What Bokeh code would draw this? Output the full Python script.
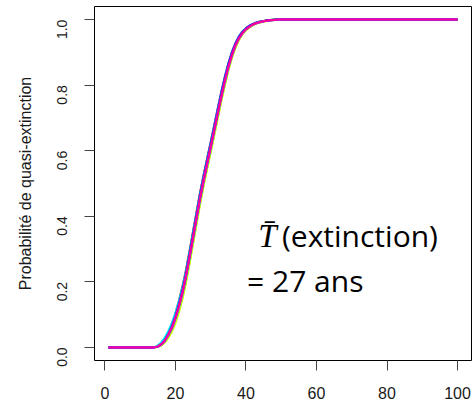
import math
from bokeh.plotting import figure
from bokeh.models import FixedTicker, Range1d, Label
from bokeh.embed import file_html
from bokeh.resources import INLINE

# ---- data ----
years_rise = list(range(14, 51))          # years where the curves rise
x_start, x_end = 1, 100                    # flat parts at 0 (start) and 1 (end)

series_colors = ["#FF0000", "#FF9900", "#CCFF00", "#33FF00", "#00FF66",
                 "#00FFFF", "#0066FF", "#3300FF", "#CC00FF", "#FF0099"]

s1 = [0.000,0.005,0.014,0.028,0.048,0.073,0.105,0.143,0.187,0.238,0.295,0.355,0.415,0.474,0.527,0.577,0.627,0.678,0.729,0.779,0.825,0.866,0.900,0.928,0.948,0.963,0.974,0.981,0.987,0.991,0.994,0.996,0.998,0.999,1.000,1.000,1.000]
s2 = [0.000,0.002,0.007,0.017,0.032,0.052,0.079,0.113,0.154,0.203,0.261,0.321,0.381,0.442,0.497,0.549,0.599,0.650,0.702,0.754,0.802,0.847,0.885,0.915,0.939,0.956,0.968,0.977,0.984,0.989,0.992,0.994,0.996,0.998,0.999,1.000,1.000]
s3 = [0.000,0.001,0.006,0.015,0.029,0.048,0.074,0.107,0.148,0.197,0.255,0.316,0.377,0.438,0.493,0.545,0.595,0.646,0.698,0.750,0.799,0.844,0.882,0.913,0.937,0.955,0.967,0.976,0.983,0.988,0.991,0.994,0.996,0.998,0.999,1.000,1.000]
s4 = [0.000,0.004,0.013,0.026,0.046,0.070,0.101,0.138,0.181,0.231,0.289,0.349,0.409,0.468,0.521,0.571,0.621,0.672,0.723,0.774,0.820,0.862,0.897,0.925,0.946,0.962,0.973,0.980,0.986,0.990,0.993,0.996,0.998,0.999,1.000,1.000,1.000]
s5 = [0.000,0.002,0.008,0.019,0.036,0.057,0.086,0.121,0.162,0.211,0.269,0.329,0.389,0.449,0.504,0.555,0.605,0.657,0.709,0.760,0.808,0.852,0.889,0.919,0.942,0.958,0.970,0.978,0.985,0.989,0.992,0.995,0.997,0.998,0.999,1.000,1.000]
s6 = [0.000,0.006,0.016,0.031,0.051,0.075,0.106,0.142,0.184,0.233,0.290,0.349,0.408,0.466,0.519,0.569,0.618,0.668,0.719,0.769,0.815,0.857,0.893,0.922,0.944,0.960,0.971,0.979,0.985,0.990,0.993,0.995,0.997,0.998,0.999,1.000,1.000]
s7 = [0.000,0.003,0.011,0.024,0.043,0.067,0.098,0.136,0.180,0.231,0.290,0.351,0.411,0.471,0.525,0.576,0.626,0.677,0.729,0.780,0.826,0.867,0.901,0.928,0.949,0.964,0.974,0.982,0.987,0.991,0.994,0.996,0.998,0.999,1.000,1.000,1.000]
s8 = [0.000,0.002,0.009,0.021,0.039,0.062,0.092,0.128,0.170,0.220,0.278,0.338,0.398,0.458,0.512,0.563,0.613,0.665,0.717,0.769,0.817,0.860,0.896,0.924,0.946,0.961,0.972,0.980,0.986,0.990,0.993,0.995,0.997,0.998,0.999,1.000,1.000]
s9 = [0.000,0.002,0.009,0.020,0.038,0.059,0.088,0.124,0.166,0.215,0.273,0.333,0.393,0.453,0.507,0.558,0.608,0.659,0.711,0.762,0.810,0.853,0.890,0.920,0.942,0.958,0.970,0.978,0.985,0.989,0.992,0.995,0.997,0.998,0.999,1.000,1.000]
s10 = [0.000,0.003,0.010,0.022,0.040,0.062,0.092,0.128,0.170,0.220,0.278,0.338,0.398,0.458,0.512,0.563,0.613,0.664,0.716,0.767,0.814,0.857,0.893,0.922,0.944,0.960,0.971,0.979,0.985,0.990,0.993,0.995,0.997,0.998,0.999,1.000,1.000]
all_series = [s1, s2, s3, s4, s5, s6, s7, s8, s9, s10]

x_ticks = [0, 20, 40, 60, 80, 100]
y_ticks = [0.0, 0.2, 0.4, 0.6, 0.8, 1.0]
y_tick_labels = ["0.0", "0.2", "0.4", "0.6", "0.8", "1.0"]
y_title = "Probabilité de quasi-extinction"
note_line1_sym = "T\u0304"
note_line1_txt = "(extinction)"
note_line2 = "= 27 ans"

# ---- figure ----
p = figure(width=473, height=407, output_backend="svg", toolbar_location=None,
           x_range=Range1d(-2.96, 103.96), y_range=Range1d(-0.04, 1.04),
           min_border_left=94, min_border_right=2, min_border_top=6,
           min_border_bottom=47)
p.background_fill_color = "white"
p.border_fill_color = "white"
p.outline_line_color = "black"
p.outline_line_width = 1
p.xgrid.visible = False
p.ygrid.visible = False

for s, c in zip(all_series, series_colors):
    xs = [x_start] + years_rise + [x_end]
    ys = [0.0] + s + [1.0]
    p.line(xs, ys, line_color=c, line_width=2)

# axes (R style)
for ax in (p.xaxis[0], p.yaxis[0]):
    ax.axis_line_color = None
    ax.major_tick_in = 0
    ax.major_tick_out = 10
    ax.minor_tick_line_color = None
    ax.major_tick_line_color = "#444444"
    ax.major_label_text_font = "Liberation Sans"
    ax.major_label_text_color = "#1a1a1a"

p.xaxis.ticker = FixedTicker(ticks=x_ticks)
p.xaxis.major_label_text_font_size = "16px"
p.xaxis.major_label_standoff = 16

p.yaxis.ticker = FixedTicker(ticks=y_ticks)
p.yaxis.major_label_overrides = {t: l for t, l in zip(y_ticks, y_tick_labels)}
p.yaxis.major_label_orientation = math.pi / 2
p.yaxis.major_label_text_font_size = "14px"
p.yaxis.major_label_standoff = 22
p.yaxis.axis_label = y_title
p.yaxis.axis_label_text_font = "Liberation Sans"
p.yaxis.axis_label_text_font_size = "16px"
p.yaxis.axis_label_text_font_style = "normal"
p.yaxis.axis_label_text_color = "#1a1a1a"
p.yaxis.axis_label_standoff = 16

# annotation
p.add_layout(Label(x=43.5, y=0.34, text=note_line1_sym, text_font="Liberation Serif",
                   text_font_style="italic", text_font_size="33px", text_color="black",
                   text_baseline="alphabetic"))
p.add_layout(Label(x=50.2, y=0.34, text=note_line1_txt, text_font="Open Sans",
                   text_font_size="30px", text_color="black", text_baseline="alphabetic"))
p.add_layout(Label(x=40.3, y=0.203, text=note_line2, text_font="Open Sans",
                   text_font_size="30px", text_color="black", text_baseline="alphabetic"))

open("out.html", "w").write(file_html(p, INLINE))
